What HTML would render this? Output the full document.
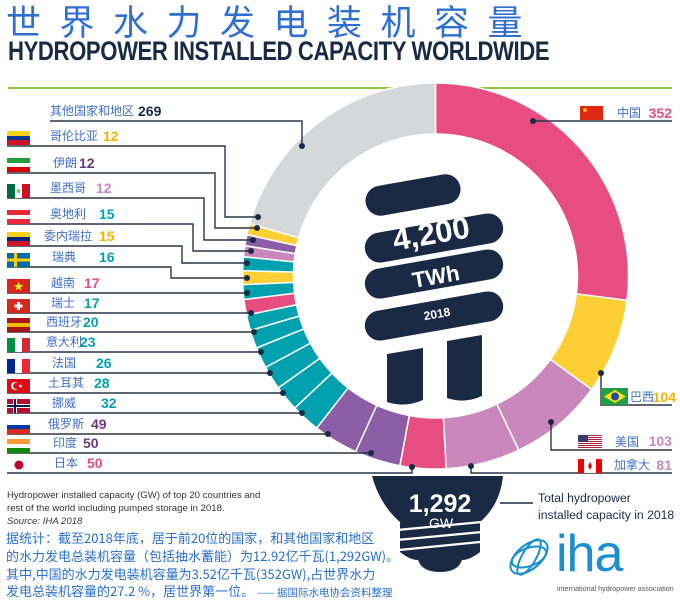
<!DOCTYPE html>
<html><head><meta charset="utf-8">
<style>
body{margin:0;width:680px;height:601px;background:#fff;overflow:hidden;position:relative;font-family:"Liberation Sans","Noto Sans CJK SC",sans-serif}
.a{position:absolute;white-space:nowrap}
</style></head>
<body>
<div class="a" style="left:6px;top:-1px;font-size:35px;letter-spacing:18.5px;color:#2f6fd0;font-family:'Noto Sans CJK SC',sans-serif;line-height:44px">世界水力发电装机容量</div>
<div class="a" style="left:8px;top:36px;font-size:27px;font-weight:bold;color:#1b2a44;transform:scaleX(0.82);transform-origin:0 0;letter-spacing:-0.5px;line-height:30px">HYDROPOWER INSTALLED CAPACITY WORLDWIDE</div>
<div class="a" style="left:8px;top:87px;width:664px;height:2px;background:#8dc63f"></div>
<svg id="s" width="680" height="601" style="position:absolute;left:0;top:0" xmlns="http://www.w3.org/2000/svg"></svg>
<script>
var cx=435.5,cy=276,R=193,r=142;
var d=[[352,'#e84d82'],[104,'#fccf35'],[103,'#c987bb'],[81,'#c987bb'],[50,'#e84d82'],[50,'#8b5ea6'],[49,'#8b5ea6'],[32,'#00a1ae'],[28,'#00a1ae'],[26,'#00a1ae'],[23,'#00a1ae'],[20,'#00a1ae'],[17,'#00a1ae'],[17,'#e84d82'],[16,'#00a1ae'],[15,'#fccf35'],[15,'#00a1ae'],[12,'#c987bb'],[12,'#8b5ea6'],[12,'#fccf35'],[269,'#d6d7d9']];
var tot=0;d.forEach(function(x){tot+=x[0]});
var h='',c=0;
function P(a,rr){a=a*Math.PI/180;return (cx+rr*Math.sin(a)).toFixed(2)+','+(cy-rr*Math.cos(a)).toFixed(2)}
d.forEach(function(x){var a0=c/tot*360;c+=x[0];var a1=c/tot*360;var lg=(a1-a0)>180?1:0;
h+='<path d="M'+P(a0,R)+' A'+R+','+R+' 0 '+lg+' 1 '+P(a1,R)+' L'+P(a1,r)+' A'+r+','+r+' 0 '+lg+' 0 '+P(a0,r)+'Z" fill="'+x[1]+'" stroke="#fff" stroke-width="1.5"/>';});
var N='#1b2a44';
h+='<g fill="'+N+'">';
[[413,195,96],[434,238,140],[434,274,140],[434,316,140]].forEach(function(b){h+='<rect x="'+(b[0]-b[2]/2)+'" y="'+(b[1]-15)+'" width="'+b[2]+'" height="30" rx="15" transform="rotate(-10 '+b[0]+' '+b[1]+')"/>';});
h+='<path d="M387,354 L423,348 L423,400 Q405,408 387,402Z"/><path d="M447,341 L482,335 L482,396 Q464,404 447,398Z"/>';
h+='<path d="M372,476 L503,476 Q500,505 480,522 L480,552 Q470,560 462,560 Q458,572 440,572 Q422,572 418,560 Q410,560 400,552 L400,522 Q380,505 372,476Z"/>';
h+='</g>';
h+='<g stroke="#fff" stroke-width="2.2" fill="none"><path d="M397,530 L482,522"/><path d="M397,540 L482,532"/><path d="M399,550 L480,542"/></g>';
h+='<text x="440" y="512" fill="#fff" font-size="25" font-weight="bold" text-anchor="middle" font-family="Liberation Sans">1,292</text><text x="441" y="528" fill="#fff" font-size="14" text-anchor="middle" font-family="Liberation Sans">GW</text>';
h+='<g fill="#fff" font-family="Liberation Sans" text-anchor="middle"><text x="431" y="244" font-size="31" font-weight="bold" transform="rotate(-10 431 233)">4,200</text><text x="436" y="284" font-size="22" font-weight="bold" transform="rotate(-10 436 277)">TWh</text><text x="437" y="318" font-size="12" font-weight="bold" transform="rotate(-10 437 314)">2018</text></g>';
h+='<line x1="500" y1="503" x2="533" y2="503" stroke="'+N+'" stroke-width="1.5"/>';
var L=[[121,50,302,146,302,269,'#1b2a44','其他国家和地区',50,138],
[146,7,225,217,258,12,'#f5b400','哥伦比亚',50,103],
[173,7,215,228,257,12,'#6b3a7c','伊朗',53,79],
[198,7,204,240,253,12,'#c987bb','墨西哥',50,96],
[224,7,193,251,251,15,'#00a1ae','奥地利',50,99],
[246,7,182,263,247,15,'#f5b400','委内瑞拉',44,99],
[267,7,171,278,247,16,'#00a1ae','瑞典',52,99]];
var S='stroke="#2b3446" stroke-width="1.4" fill="none"';
L.forEach(function(l){h+='<path d="M'+l[1]+','+l[0]+' H'+l[2]+' V'+l[3]+' H'+l[4]+'" '+S+'/><circle cx="'+l[4]+'" cy="'+l[3]+'" r="3" fill="#1b2a44"/>';
h+='<text x="'+l[8]+'" y="'+(l[0]-6)+'" font-size="12" fill="#3f6fc3">'+l[7]+'</text><text x="'+l[9]+'" y="'+(l[0]-5)+'" font-size="14" font-weight="bold" fill="'+l[6]+'" font-family="Liberation Sans">'+l[5]+'</text>';});
var M=[[293,247,17,'#e84d82','越南',51,84],[313,251,17,'#00a1ae','瑞士',51,84],[332,254,20,'#00a1ae','西班牙',46,83],[352,261,23,'#00a1ae','意大利',46,80],[373,270,26,'#00a1ae','法国',52,96],[393,283,28,'#00a1ae','土耳其',48,94],[413,302,32,'#00a1ae','挪威',52,101],[434,328,49,'#6b3a7c','俄罗斯',48,91],[453,371,50,'#6b3a7c','印度',53,83]];
M.forEach(function(l){h+='<path d="M7,'+l[0]+' H'+l[1]+'" '+S+'/><circle cx="'+l[1]+'" cy="'+l[0]+'" r="3" fill="#1b2a44"/>';
h+='<text x="'+l[5]+'" y="'+(l[0]-6)+'" font-size="12" fill="#3f6fc3">'+l[4]+'</text><text x="'+l[6]+'" y="'+(l[0]-5)+'" font-size="14" font-weight="bold" fill="'+l[3]+'" font-family="Liberation Sans">'+l[2]+'</text>';});
h+='<path d="M7,473 H412 V467" '+S+'/><circle cx="412" cy="467" r="3" fill="#1b2a44"/><text x="54" y="467" font-size="12" fill="#3f6fc3">日本</text><text x="87" y="468" font-size="14" font-weight="bold" fill="#e84d82">50</text>';
h+='<path d="M533,121 H672" '+S+'/><circle cx="533" cy="121" r="3" fill="#1b2a44"/>';
h+='<path d="M601,373 V405 H672" '+S+'/><circle cx="601" cy="373" r="3" fill="#1b2a44"/>';
h+='<path d="M551,422 V450 H672" '+S+'/><circle cx="551" cy="422" r="3" fill="#1b2a44"/>';
h+='<path d="M471,466 V473 H672" '+S+'/><circle cx="471" cy="466" r="3" fill="#1b2a44"/>';
h+='<text x="617" y="117" font-size="12" fill="#3f6fc3">中国</text><text x="672" y="118" font-size="14" font-weight="bold" fill="#e84d82" text-anchor="end">352</text>';
h+='<text x="630" y="401" font-size="12" fill="#3f6fc3">巴西</text><text x="676" y="402" font-size="14" font-weight="bold" fill="#f5b400" text-anchor="end">104</text>';
h+='<text x="615" y="446" font-size="12" fill="#3f6fc3">美国</text><text x="672" y="446" font-size="14" font-weight="bold" fill="#c987bb" text-anchor="end">103</text>';
h+='<text x="614" y="469" font-size="12" fill="#3f6fc3">加拿大</text><text x="672" y="470" font-size="14" font-weight="bold" fill="#c987bb" text-anchor="end">81</text>';
function fl(x,y,w,hh,s){h+='<g transform="translate('+x+','+y+')">'+s+'</g>'}
fl(580,106,23,14,'<rect width="23" height="14" fill="#de2910"/><circle cx="5" cy="4" r="1.8" fill="#ffde00"/>');
fl(602,388,26,17,'<rect width="26" height="17" fill="#229e45"/><path d="M13,2 L24,8.5 L13,15 L2,8.5Z" fill="#f8e509"/><circle cx="13" cy="8.5" r="4" fill="#2b49a3"/>');
var us='<rect width="24" height="14" fill="#fff"/>';for(var i=0;i<7;i++)us+='<rect y="'+(i*2)+'" width="24" height="1" fill="#b22234"/>';us+='<rect width="10" height="7" fill="#3c3b6e"/>';
fl(578,435,24,14,us);
fl(578,459,24,14,'<rect width="24" height="14" fill="#fff"/><rect width="6" height="14" fill="#e00"/><rect x="18" width="6" height="14" fill="#e00"/><path d="M12,3 L14,7 L12,11 L10,7Z" fill="#e00"/>');
function tri(y,a,b,c){fl(7,y,23,14,'<rect width="23" height="5" fill="'+a+'"/><rect y="5" width="23" height="4" fill="'+b+'"/><rect y="9" width="23" height="5" fill="'+c+'"/>')}
tri(131,'#fcd116','#003893','#ce1126');
tri(158,'#239f40','#fff','#da0000');
fl(7,184,23,14,'<rect width="8" height="14" fill="#006847"/><rect x="8" width="7" height="14" fill="#fff"/><rect x="15" width="8" height="14" fill="#ce1126"/><circle cx="11.5" cy="7" r="2" fill="#8c6"/>');
tri(210,'#ed2939','#fff','#ed2939');
tri(232,'#fcd116','#00247d','#cf142b');
fl(7,253,23,14,'<rect width="23" height="14" fill="#006aa7"/><rect x="7" width="3" height="14" fill="#fecc00"/><rect y="5.5" width="23" height="3" fill="#fecc00"/>');
fl(7,279,23,14,'<rect width="23" height="14" fill="#da251d"/><text x="11.5" y="11" font-size="10" fill="#ff0" text-anchor="middle">★</text>');
fl(7,299,23,14,'<rect width="23" height="14" fill="#d52b1e"/><rect x="10" y="3" width="3" height="8" fill="#fff"/><rect x="7.5" y="5.5" width="8" height="3" fill="#fff"/>');
tri(318,'#aa151b','#f1bf00','#aa151b');
fl(7,338,23,14,'<rect width="8" height="14" fill="#009246"/><rect x="8" width="7" height="14" fill="#fff"/><rect x="15" width="8" height="14" fill="#ce2b37"/>');
fl(7,359,23,14,'<rect width="8" height="14" fill="#002395"/><rect x="8" width="7" height="14" fill="#fff"/><rect x="15" width="8" height="14" fill="#ed2939"/>');
fl(7,379,23,14,'<rect width="23" height="14" fill="#e30a17"/><circle cx="8" cy="7" r="4" fill="#fff"/><circle cx="9.3" cy="7" r="3.2" fill="#e30a17"/><circle cx="13.5" cy="7" r="1.3" fill="#fff"/>');
fl(7,399,23,14,'<rect width="23" height="14" fill="#ba0c2f"/><rect x="6" width="4" height="14" fill="#fff"/><rect y="5" width="23" height="4" fill="#fff"/><rect x="7" width="2" height="14" fill="#00205b"/><rect y="6" width="23" height="2" fill="#00205b"/>');
tri(420,'#fff','#0039a6','#d52b1e');
tri(439,'#ff9933','#fff','#138808');
h+='<circle cx="19" cy="465" r="4.5" fill="#bc002d"/>';
document.getElementById('s').innerHTML=h;
</script>
<div class="a" style="left:7px;top:489px;font-size:9.6px;color:#333;line-height:13px">Hydropower installed capacity (GW) of top 20 countries and<br>rest of the world including pumped storage in 2018.<br><i>Source: IHA 2018</i></div>
<div class="a" style="left:6px;top:529px;font-size:13px;color:#2a6fc9;line-height:17.8px;font-family:'Liberation Sans Narrow','Noto Sans CJK SC',sans-serif">据统计：截至2018年底，居于前20位的国家，和其他国家和地区<br>的水力发电总装机容量（包括抽水蓄能）为12.92亿千瓦(1,292GW)。<br>其中,中国的水力发电装机容量为3.52亿千瓦(352GW),占世界水力<br>发电总装机容量的27.2 %，居世界第一位。 <span style="font-size:10.5px">—— 据国际水电协会资料整理</span></div>
<div class="a" style="left:538px;top:490px;font-size:12.2px;color:#1b2a44;line-height:17px">Total hydropower<br>installed capacity in 2018</div>
<svg width="60" height="45" style="position:absolute;left:502px;top:535px"><g fill="none" stroke="#1a8fd0" stroke-width="2"><ellipse cx="27" cy="22" rx="22" ry="12" transform="rotate(-40 27 22)"/><ellipse cx="27" cy="22" rx="18" ry="9" transform="rotate(-20 27 22)"/><ellipse cx="27" cy="22" rx="20" ry="7" transform="rotate(-60 27 22)"/></g></svg>
<div class="a" style="left:556px;top:526px;font-size:52px;color:#1a8fd0;line-height:57px;letter-spacing:-1px">iha</div>
<div class="a" style="left:557px;top:584px;font-size:7.2px;color:#555">international hydropower association</div>
</body></html>
